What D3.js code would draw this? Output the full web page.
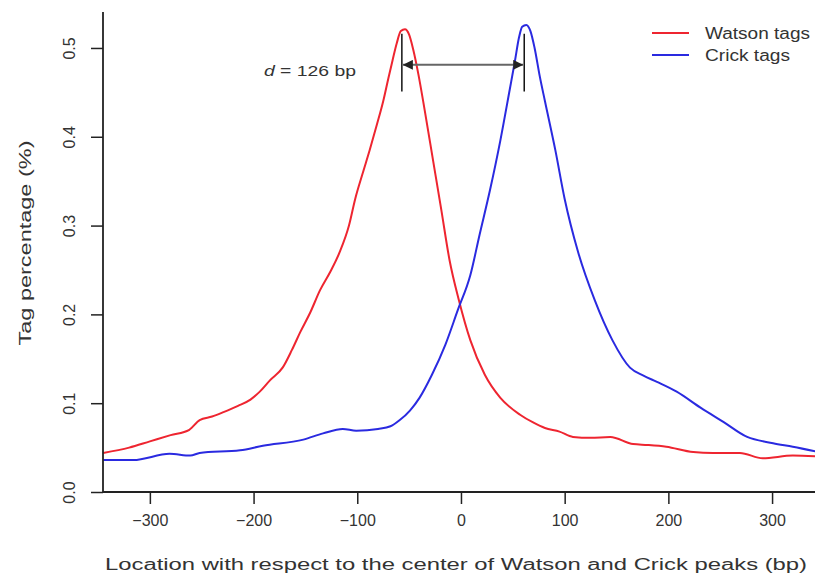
<!DOCTYPE html>
<html lang="en">
<head>
  <meta charset="UTF-8">
  <title>Watson and Crick tag distribution</title>
  <script src="https://d3js.org/d3.v7.min.js"></script>
  <style>
    body {
      margin: 0;
      background: #fff;
      font-family: "Liberation Sans", Arial, sans-serif;
    }
    svg text { fill: #333; }
  </style>
</head>
<body>
<svg width="815" height="579"></svg>

<script>
  // tag percentage, by location (bp)
  const watsonBp  = [-345, -320, -300, -280, -262, -252, -240, -229, -215, -203, -194, -184, -172, -163, -155, -145, -136, -126, -117, -108, -102, -95, -88, -81, -75, -70, -66, -62, -58, -54, -50, -46, -41, -35, -27, -19, -11, -2, 9, 23, 38, 57, 70, 81, 95, 108, 125, 144, 166, 180, 198, 224, 243, 269, 291, 320, 345];
  const watsonPct = [0.044, 0.050, 0.057, 0.064, 0.070, 0.081, 0.085, 0.090, 0.097, 0.104, 0.113, 0.126, 0.140, 0.160, 0.180, 0.203, 0.227, 0.248, 0.270, 0.300, 0.330, 0.358, 0.385, 0.414, 0.440, 0.466, 0.486, 0.505, 0.519, 0.521, 0.515, 0.498, 0.470, 0.430, 0.374, 0.318, 0.261, 0.216, 0.171, 0.132, 0.106, 0.087, 0.078, 0.072, 0.068, 0.062, 0.061, 0.062, 0.054, 0.053, 0.051, 0.045, 0.044, 0.044, 0.038, 0.041, 0.040];

  const crickBp  = [-345, -316, -281, -261, -252, -213, -191, -152, -133, -114, -101, -80, -68, -59, -49, -40, -28, -15, -3, 9, 18, 28, 38, 47, 52, 56, 59, 63, 67, 71, 76, 81, 91, 100, 113, 129, 146, 163, 176, 189, 208, 231, 253, 276, 301, 320, 345];
  const crickPct = [0.036, 0.036, 0.043, 0.041, 0.044, 0.047, 0.052, 0.059, 0.066, 0.071, 0.069, 0.071, 0.074, 0.081, 0.092, 0.106, 0.132, 0.166, 0.205, 0.244, 0.290, 0.340, 0.396, 0.453, 0.485, 0.512, 0.524, 0.526, 0.519, 0.500, 0.468, 0.440, 0.385, 0.330, 0.270, 0.216, 0.171, 0.140, 0.131, 0.124, 0.113, 0.095, 0.079, 0.062, 0.055, 0.051, 0.045];

  const xTicks = [-300, -200, -100, 0, 100, 200, 300];
  const yTicks = [0.0, 0.1, 0.2, 0.3, 0.4, 0.5];

  const peakMarks = [-57, 61];   // vertical marks at the two peaks
  const peakLabel = "126 bp";

  const seriesNames = ["Watson tags", "Crick tags"];
  const seriesColors = ["#ee2530", "#2a2ae0"];

  const svg = d3.select("svg");
  const mLeft = 103, mTop = 12, mBottom = 492, mRight = 815;

  const x = d3.scaleLinear().domain([-345.2, 341.4]).range([mLeft, mRight]);
  const y = d3.scaleLinear().domain([0, 0.5405]).range([mBottom, mTop]);

  const defs = svg.append("defs");
  defs.append("clipPath").attr("id", "plot")
    .append("rect").attr("x", mLeft).attr("y", 0).attr("width", mRight - mLeft).attr("height", mBottom);

  // curves
  const line = d3.line().x(d => x(d[0])).y(d => y(d[1])).curve(d3.curveMonotoneX);
  const series = [
    d3.zip(watsonBp, watsonPct),
    d3.zip(crickBp, crickPct)
  ];
  svg.append("g").attr("clip-path", "url(#plot)")
    .selectAll("path")
    .data(series)
    .join("path")
    .attr("d", line)
    .attr("fill", "none")
    .attr("stroke", (d, i) => seriesColors[i])
    .attr("stroke-width", 2)
    .attr("stroke-linejoin", "round");

  // axes
  const xAxis = svg.append("g")
    .attr("transform", `translate(0,${mBottom})`)
    .call(d3.axisBottom(x).tickValues(xTicks).tickSize(12).tickPadding(8)
      .tickFormat(d => d < 0 ? "\u2212" + Math.abs(d) : d));
  const yAxis = svg.append("g")
    .attr("transform", `translate(${mLeft},0)`)
    .call(d3.axisLeft(y).tickValues(yTicks).tickSize(12).tickFormat(d3.format(".1f")));

  [xAxis, yAxis].forEach(g => {
    g.select(".domain").remove();
    g.selectAll(".tick line").attr("stroke", "#222").attr("stroke-width", 1.5);
    g.selectAll("text").style("font-size", "16px").style("font-family", "Liberation Sans, Arial, sans-serif").attr("fill", "#333");
  });
  xAxis.selectAll("text").attr("dy", "0.9em");
  yAxis.selectAll("text")
    .attr("x", null)
    .attr("text-anchor", "middle")
    .attr("transform", "translate(-34,0) rotate(-90)")
    .attr("dy", "0.35em");

  // L-shaped frame
  svg.append("path")
    .attr("d", `M${mLeft},${mTop}V${mBottom}H${mRight}`)
    .attr("fill", "none")
    .attr("stroke", "#222")
    .attr("stroke-width", 1.8);

  // axis titles
  svg.append("text")
    .attr("x", 456).attr("y", 570)
    .attr("text-anchor", "middle")
    .attr("textLength", 702).attr("lengthAdjust", "spacingAndGlyphs")
    .style("font-size", "16px")
    .text("Location with respect to the center of Watson and Crick peaks (bp)");
  svg.append("text")
    .attr("transform", "translate(25,243) rotate(-90)")
    .attr("text-anchor", "middle")
    .attr("dy", "0.35em")
    .attr("textLength", 205).attr("lengthAdjust", "spacingAndGlyphs")
    .style("font-size", "16px")
    .text("Tag percentage (%)");

  // peak distance annotation
  const ann = svg.append("g");
  ann.selectAll("line.mark")
    .data(peakMarks)
    .join("line")
    .attr("class", "mark")
    .attr("x1", d => x(d)).attr("x2", d => x(d))
    .attr("y1", y(0.516)).attr("y2", y(0.451))
    .attr("stroke", "#111").attr("stroke-width", 1.5);

  const arrowY = y(0.481);
  defs.append("marker")
    .attr("id", "head")
    .attr("viewBox", "0 0 10 10")
    .attr("refX", 10).attr("refY", 5)
    .attr("markerWidth", 5).attr("markerHeight", 5)
    .attr("orient", "auto-start-reverse")
    .append("path").attr("d", "M0,0L10,5L0,10Z").attr("fill", "#222");
  ann.append("line")
    .attr("x1", x(peakMarks[0]) + 1).attr("x2", x(peakMarks[1]) - 1)
    .attr("y1", arrowY).attr("y2", arrowY)
    .attr("stroke", "#666").attr("stroke-width", 2)
    .attr("marker-start", "url(#head)")
    .attr("marker-end", "url(#head)");

  const lbl = ann.append("text")
    .attr("x", 264).attr("y", arrowY + 11)
    .attr("textLength", 92).attr("lengthAdjust", "spacingAndGlyphs")
    .style("font-size", "15px");
  lbl.append("tspan").style("font-style", "italic").text("d");
  lbl.append("tspan").text(" = " + peakLabel);

  // legend
  const legendWidths = [105, 85];
  const legend = svg.append("g").attr("transform", "translate(652,33)");
  const item = legend.selectAll("g")
    .data(seriesNames)
    .join("g")
    .attr("transform", (d, i) => `translate(0,${i * 22})`);
  item.append("line")
    .attr("x1", 0).attr("x2", 37)
    .attr("stroke", (d, i) => seriesColors[i])
    .attr("stroke-width", 2);
  item.append("text")
    .attr("x", 53).attr("dy", "0.35em")
    .attr("textLength", (d, i) => legendWidths[i]).attr("lengthAdjust", "spacingAndGlyphs")
    .style("font-size", "16px")
    .text(d => d);
</script>
</body>
</html>
